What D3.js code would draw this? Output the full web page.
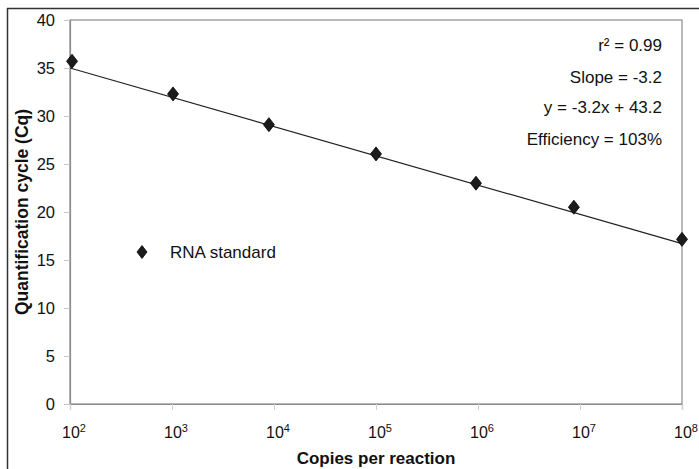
<!DOCTYPE html>
<html>
<head>
<meta charset="utf-8">
<script src="https://cdn.jsdelivr.net/npm/d3@7"></script>
<style>
  html, body { margin: 0; padding: 0; background: #fff; }
  svg { display: block; font-family: "Liberation Sans", Arial, Helvetica, sans-serif; }
</style>
</head>
<body>
<svg id="chart" width="699" height="469"></svg>
<script>
// Data (x values as log10 of copies per reaction)
const copiesLog10 = [2.02, 3.01, 3.95, 5.0, 5.98, 6.94, 8.0];
const cqValues    = [35.7, 32.3, 29.1, 26.05, 23.0, 20.5, 17.15];
const trendX      = [2, 8];
const trendY      = [35.0, 16.7];
const xTickExps   = [2, 3, 4, 5, 6, 7, 8];
const yTicks      = [0, 5, 10, 15, 20, 25, 30, 35, 40];
const annotations = ["r² = 0.99", "Slope = -3.2", "y = -3.2x + 43.2", "Efficiency = 103%"];
const seriesName  = "RNA standard";

const svg = d3.select("#chart");
const pLeft = 70, pRight = 682, pTop = 20, pBottom = 404;

const x = d3.scaleLog().domain([1e2, 1e8]).range([pLeft, pRight]);
const y = d3.scaleLinear().domain([0, 40]).range([pBottom, pTop]);

// outer frame lines
svg.append("line").attr("x1", 7.5).attr("x2", 7.5).attr("y1", 8).attr("y2", 469)
  .attr("stroke", "#333").attr("stroke-width", 1.5);
svg.append("line").attr("x1", 7).attr("x2", 699).attr("y1", 8.5).attr("y2", 8.5)
  .attr("stroke", "#333").attr("stroke-width", 1.5);

// plot area border
svg.append("rect").attr("x", pLeft).attr("y", pTop)
  .attr("width", pRight - pLeft).attr("height", pBottom - pTop)
  .attr("fill", "none").attr("stroke", "#8a8a8a").attr("stroke-width", 1.2);

// Y axis
const yAxis = d3.axisLeft(y).tickValues(yTicks).tickSize(6).tickPadding(9).tickFormat(d3.format("d"));
const yg = svg.append("g").attr("transform", `translate(${pLeft},0)`).call(yAxis);
yg.select(".domain").attr("stroke", "#8a8a8a").attr("stroke-width", 1.2);
yg.selectAll(".tick line").attr("stroke", "#c8c8c8");
yg.selectAll(".tick text").attr("font-size", 16.5).attr("fill", "#111")
  .attr("font-family", "'Liberation Sans', Arial, sans-serif");

// X axis
const xAxis = d3.axisBottom(x).tickValues(xTickExps.map(e => Math.pow(10, e))).tickSize(6).tickFormat("");
const xg = svg.append("g").attr("transform", `translate(0,${pBottom})`).call(xAxis);
xg.select(".domain").attr("stroke", "#8a8a8a").attr("stroke-width", 1.2);
xg.selectAll(".tick line").attr("stroke", "#d0d0d0");

// x tick labels with superscripts
const xl = svg.append("g");
xTickExps.forEach(e => {
  const t = xl.append("text")
    .attr("x", x(Math.pow(10, e)) + 4)
    .attr("y", 438)
    .attr("text-anchor", "middle")
    .attr("font-size", 16)
    .attr("fill", "#111");
  t.append("tspan").text("10");
  t.append("tspan").attr("font-size", 11).attr("dy", -6).text(String(e));
});

// trendline
svg.append("line")
  .attr("x1", x(Math.pow(10, trendX[0]))).attr("y1", y(trendY[0]))
  .attr("x2", x(Math.pow(10, trendX[1]))).attr("y2", y(trendY[1]))
  .attr("stroke", "#222").attr("stroke-width", 1.2);

// diamonds
const diamond = (cx, cy, w, h) => `M${cx},${cy - h} L${cx + w},${cy} L${cx},${cy + h} L${cx - w},${cy} Z`;
svg.append("g").selectAll("path").data(copiesLog10).join("path")
  .attr("d", (d, i) => diamond(x(Math.pow(10, d)), y(cqValues[i]), 5.5, 7))
  .attr("fill", "#1c1c1c").attr("stroke", "#000").attr("stroke-width", 0.8);

// legend
svg.append("path").attr("d", diamond(142, 252, 5, 6.5)).attr("fill", "#1c1c1c").attr("stroke", "#000").attr("stroke-width", 0.8);
svg.append("text").attr("x", 170).attr("y", 258).attr("font-size", 17).attr("fill", "#111").text(seriesName);

// annotations
const annY = [51, 83, 113, 145];
annotations.forEach((s, i) => {
  svg.append("text").attr("x", 662).attr("y", annY[i]).attr("text-anchor", "end")
    .attr("font-size", 17).attr("fill", "#111").text(s);
});

// axis titles
svg.append("text").attr("x", (pLeft + pRight) / 2).attr("y", 464).attr("text-anchor", "middle")
  .attr("font-size", 17).attr("font-weight", "bold").attr("fill", "#111").text("Copies per reaction");
svg.append("text").attr("transform", `translate(28,${(pTop + pBottom) / 2}) rotate(-90)`)
  .attr("text-anchor", "middle").attr("font-size", 17.5).attr("font-weight", "bold").attr("fill", "#111")
  .text("Quantification cycle (Cq)");
</script>
</body>
</html>
